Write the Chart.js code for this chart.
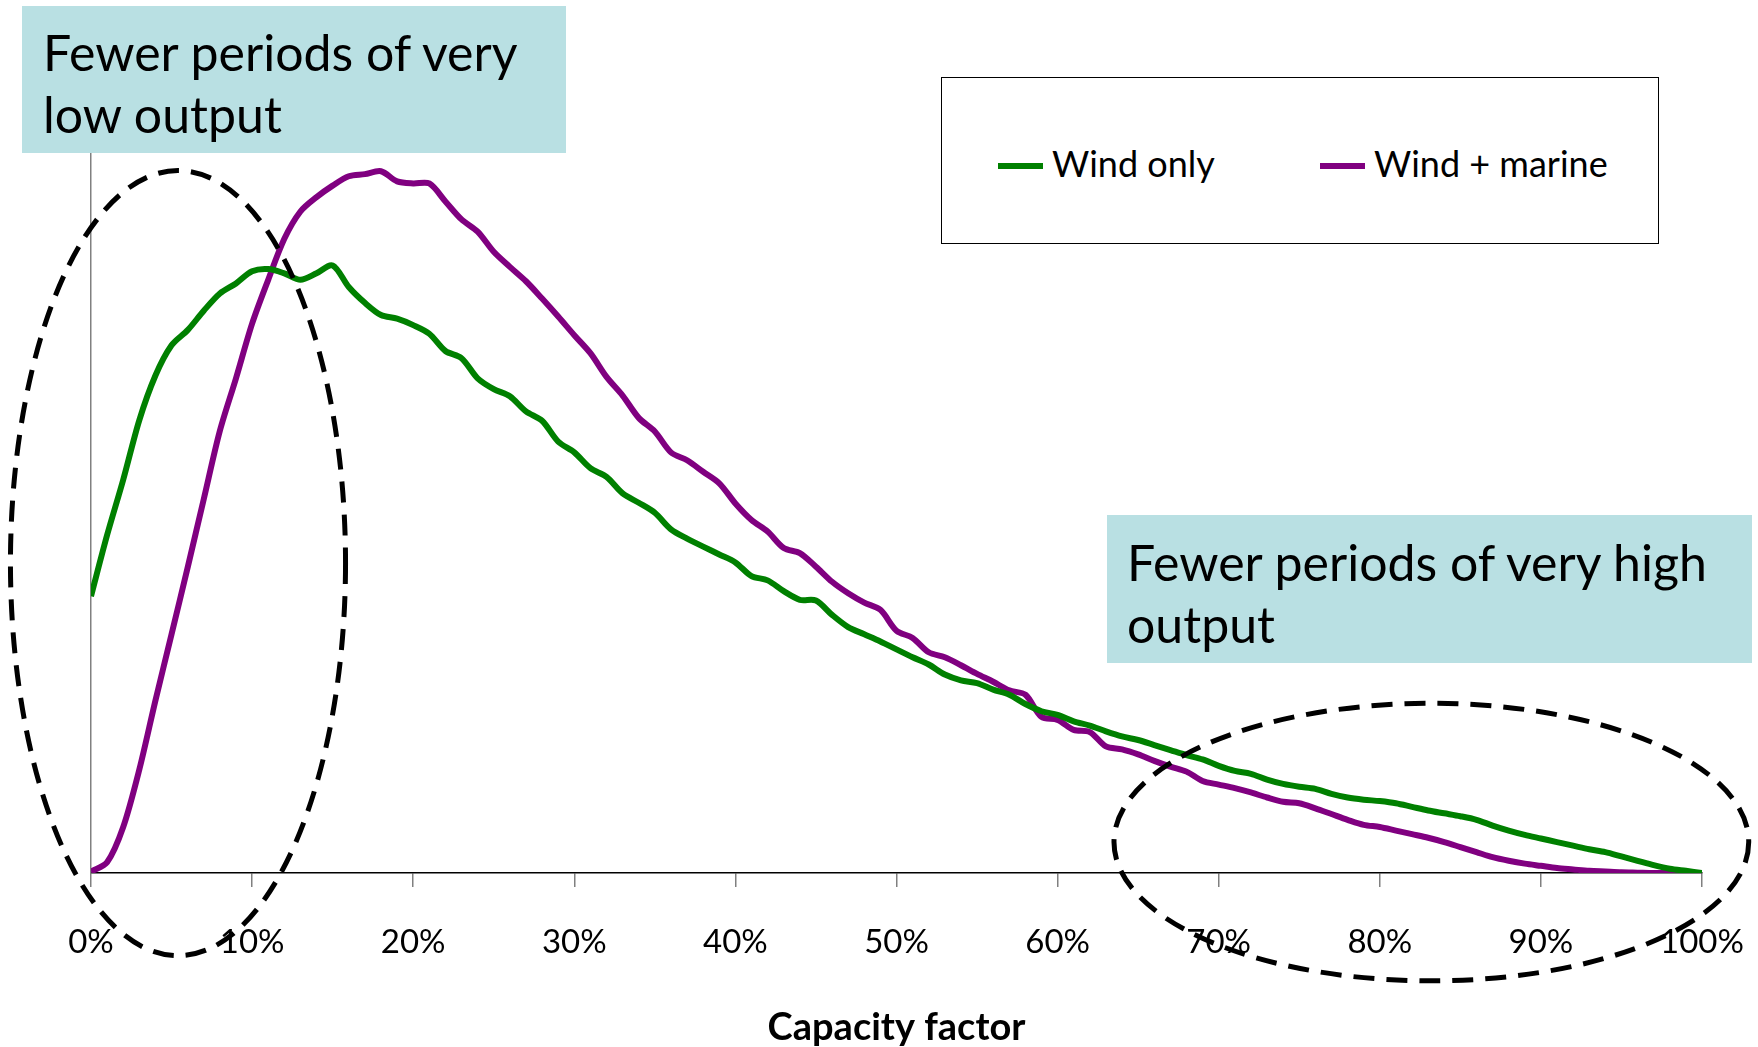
<!DOCTYPE html>
<html>
<head>
<meta charset="utf-8">
<script src="https://cdn.jsdelivr.net/npm/chart.js@4.4.1/dist/chart.umd.min.js"></script>
<style>
  html, body { margin: 0; padding: 0; background: #fff; }
  #wrap { position: relative; width: 1758px; height: 1047px; overflow: hidden; font-family: "Lato", "Open Sans", sans-serif; }
  #chart { position: absolute; left: 0; top: 0; }
  .note { position: absolute; background: #b9e0e3; color: #000; font-size: 50px; line-height: 62px; box-sizing: border-box; white-space: nowrap; }
  #legend { position: absolute; left: 941px; top: 77px; width: 718px; height: 167px; border: 1px solid #000; box-sizing: border-box; background: #fff; font-size: 36px; }
  .item { position: absolute; top: 65px; height: 40px; line-height: 40px; white-space: nowrap; }
  .swatch { display: inline-block; width: 45px; height: 6px; vertical-align: middle; margin-right: 9px; position: relative; top: -2px; }
</style>
</head>
<body>
<div id="wrap">
  <canvas id="chart" width="1758" height="1047"></canvas>
  <div class="note" style="left:22px; top:6px; width:544px; height:147px; padding:15px 0 0 21px;">Fewer periods of very<br>low output</div>
  <div class="note" style="left:1107px; top:515px; width:645px; height:148px; padding:16px 0 0 20px;">Fewer periods of very high<br>output</div>
  <div id="legend"></div>
</div>
<script>
// capacity factor (%) along the x axis
const capacity = [];
for (let i = 0; i <= 100; i++) capacity.push(i);

// relative frequency of each capacity factor (arbitrary units)
const windOnly = [
  38.5, 47.0, 54.7, 63.0, 69.2, 73.4, 75.5, 78.2, 80.6, 82.0,
  83.7, 84.0, 83.4, 82.5, 83.4, 84.5, 81.5, 79.3, 77.6, 77.1,
  76.2, 75.0, 72.6, 71.6, 68.8, 67.3, 66.3, 64.2, 62.9, 60.0,
  58.5, 56.3, 55.1, 52.8, 51.5, 50.1, 47.8, 46.5, 45.4, 44.3,
  43.2, 41.3, 40.7, 39.2, 38.0, 37.9, 35.9, 34.2, 33.2, 32.2,
  31.1, 30.0, 29.0, 27.6, 26.8, 26.4, 25.5, 24.8, 23.5, 22.5,
  22.0, 21.1, 20.5, 19.7, 19.0, 18.5, 17.8, 17.1, 16.4, 15.8,
  14.9, 14.2, 13.8, 13.0, 12.4, 12.0, 11.7, 11.0, 10.5, 10.2,
  10.0, 9.7, 9.2, 8.7, 8.3, 7.9, 7.4, 6.6, 5.9, 5.3,
  4.8, 4.3, 3.8, 3.3, 2.9, 2.3, 1.7, 1.1, 0.6, 0.3,
  0.0
];

const windMarine = [
  0.2, 1.5, 6.4, 14.4, 24.0, 33.2, 42.5, 52.0, 61.5, 68.8,
  76.4, 82.5, 88.2, 92.0, 94.0, 95.6, 96.9, 97.2, 97.6, 96.2,
  95.9, 95.9, 93.4, 90.9, 89.2, 86.4, 84.3, 82.3, 79.9, 77.4,
  74.8, 72.3, 69.0, 66.4, 63.3, 61.4, 58.5, 57.4, 55.8, 54.2,
  51.4, 49.1, 47.5, 45.2, 44.5, 42.6, 40.5, 38.9, 37.6, 36.6,
  33.7, 32.7, 30.7, 30.0, 28.9, 27.7, 26.6, 25.4, 24.8, 21.7,
  21.3, 19.9, 19.6, 17.6, 17.2, 16.5, 15.6, 14.8, 14.1, 12.8,
  12.3, 11.8, 11.2, 10.5, 9.9, 9.7, 9.0, 8.2, 7.4, 6.7,
  6.4, 5.9, 5.4, 4.9, 4.3, 3.6, 2.9, 2.2, 1.7, 1.3,
  1.0, 0.7, 0.5, 0.3, 0.2, 0.1, 0.05, 0.0, 0.0, 0.0,
  0.0
];

const seriesNames = ["Wind only", "Wind + marine"];
const seriesColors = ["#008000", "#800080"];

// dashed rings around the two tails: centre (x %, y units) and radii
const rings = [
  { cx: 5.4, cy: 43.1, rx: 10.4, ry: 54.6 },
  { cx: 83.2, cy: 4.3, rx: 19.7, ry: 19.3 }
];

function toPoints(values) {
  return values.map((v, i) => ({ x: capacity[i], y: v }));
}

// html legend
const legend = document.getElementById("legend");
const legendLeft = [56, 378];
seriesNames.forEach((name, i) => {
  const el = document.createElement("div");
  el.className = "item";
  el.style.left = legendLeft[i] + "px";
  el.innerHTML = `<span class="swatch" style="background:${seriesColors[i]}"></span>${name}`;
  legend.appendChild(el);
});

const ringPlugin = {
  id: "rings",
  afterDraw(chart) {
    const { ctx, scales } = chart;
    ctx.save();
    ctx.strokeStyle = "#000";
    ctx.lineWidth = 5;
    ctx.setLineDash([21, 12]);
    rings.forEach((r) => {
      const cx = scales.x.getPixelForValue(r.cx);
      const cy = scales.y.getPixelForValue(r.cy);
      const rx = Math.abs(scales.x.getPixelForValue(r.cx + r.rx) - cx);
      const ry = Math.abs(scales.y.getPixelForValue(r.cy + r.ry) - cy);
      ctx.beginPath();
      ctx.ellipse(cx, cy, rx, ry, 0, 0, Math.PI * 2);
      ctx.stroke();
    });
    ctx.restore();
  }
};

new Chart(document.getElementById("chart"), {
  type: "line",
  data: {
    datasets: [
      {
        label: seriesNames[0],
        data: toPoints(windOnly),
        borderColor: seriesColors[0],
        borderWidth: 6,
        pointRadius: 0,
        tension: 0.3,
        fill: false
      },
      {
        label: seriesNames[1],
        data: toPoints(windMarine),
        borderColor: seriesColors[1],
        borderWidth: 6,
        pointRadius: 0,
        tension: 0.3,
        fill: false
      }
    ]
  },
  options: {
    responsive: false,
    animation: false,
    layout: { padding: { left: 91, top: 154, right: 56, bottom: 0 } },
    plugins: {
      legend: { display: false },
      tooltip: { enabled: false }
    },
    scales: {
      x: {
        type: "linear",
        min: 0,
        max: 100,
        afterFit: (s) => { s.height = 174; s.paddingLeft = 0; s.paddingRight = 0; },
        ticks: {
          stepSize: 10,
          padding: 36,
          color: "#000",
          font: { family: "Lato", size: 33 },
          callback: (v) => v + "%",
          maxRotation: 0
        },
        grid: { drawOnChartArea: false, drawTicks: true, tickLength: 14, color: "#808080", lineWidth: 1.5 },
        border: { color: "#000", width: 1.5 },
        title: {
          display: true,
          text: "Capacity factor",
          color: "#000",
          font: { family: "Lato", size: 38, weight: "bold", lineHeight: 1.0 },
          padding: { top: 0, bottom: 0 }
        }
      },
      y: {
        min: 0,
        max: 100,
        afterFit: (s) => { s.width = 0; },
        ticks: { display: false },
        grid: { display: false },
        border: { color: "#808080", width: 1.5 }
      }
    }
  },
  plugins: [ringPlugin]
});
</script>
</body>
</html>
